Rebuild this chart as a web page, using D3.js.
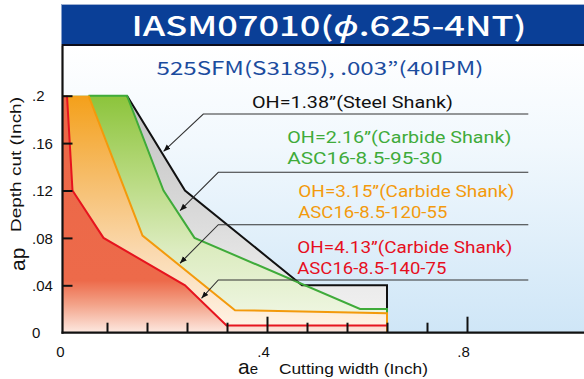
<!DOCTYPE html>
<html>
<head>
<meta charset="utf-8">
<script src="https://cdn.jsdelivr.net/npm/d3@7"></script>
<style>
  html, body { margin: 0; padding: 0; background: #ffffff; }
  svg { display: block; }
</style>
</head>
<body>
<svg id="chart" width="584" height="379"></svg>
<script>
// ---- data (cutting width ae, depth of cut ap, in inches) ----
const steelAe   = [0.12, 0.236, 0.47, 0.64, 0.64];
const steelAp   = [0.2, 0.12, 0.04, 0.04, 0];
const c95Ae     = [0.043, 0.12, 0.193, 0.255, 0.586, 0.64];
const c95Ap     = [0.2, 0.2, 0.12, 0.08, 0.02, 0.02];
const c120Ae    = [0.043, 0.151, 0.336, 0.64];
const c120Ap    = [0.2, 0.082, 0.019, 0.0165];
const c140Ae    = [0, 0.011, 0.073, 0.236, 0.319, 0.64];
const c140Ap    = [0.2, 0.12, 0.08, 0.04, 0.006, 0.006];

const xMinorTicks = [0.08, 0.16, 0.24, 0.32, 0.48, 0.56, 0.64, 0.72];
const xMajorTicks = [0, 0.4, 0.8];
const xTickLabels = ["0", ".4", ".8"];
const yTicks      = [0, 0.04, 0.08, 0.12, 0.16, 0.2];
const yTickLabels = ["0", ".04", ".08", ".12", ".16", ".2"];

const titleText    = "IASM07010(";
const titlePhi     = "ϕ";
const titleRest    = ".625-4NT)";
const subtitleText = "525SFM(S3185), .003”(40IPM)";

const seriesNames = [
  ["OH=1.38”(Steel Shank)"],
  ["OH=2.16”(Carbide Shank)", "ASC16-8.5-95-30"],
  ["OH=3.15”(Carbide Shank)", "ASC16-8.5-120-55"],
  ["OH=4.13”(Carbide Shank)", "ASC16-8.5-140-75"]
];
// points on each curve that the call-out arrows point at
const calloutAe = [0.193, 0.226, 0.226, 0.269];
const calloutAp = [0.153, 0.103, 0.0586, 0.029];

// ---- layout ----
const svg = d3.select("#chart");
const W = 584;
const plotLeft = 62.5, plotTop = 46, axisY = 332.7;
const x = d3.scaleLinear().domain([0, 1.034]).range([67, 584]);
const y = d3.scaleLinear().domain([0, 0.2]).range([axisY, 95.7]);

const defs = svg.append("defs");
function vGrad(id, stops, y1, y2) {
  const g = defs.append("linearGradient").attr("id", id)
    .attr("gradientUnits", "userSpaceOnUse")
    .attr("x1", 0).attr("x2", 0).attr("y1", y1).attr("y2", y2);
  stops.forEach(s => g.append("stop").attr("offset", s[0]).attr("stop-color", s[1]));
}
vGrad("bgGrad",    [[0, "#ffffff"], [0.35, "#f1f8fd"], [1, "#cfe6f7"]], plotTop, axisY);
vGrad("grayGrad",  [[0, "#c2c2c2"], [0.45, "#d7d7d7"], [0.8, "#ebebeb"], [1, "#f4f4f4"]], y(0.2), axisY);
vGrad("greenGrad", [[0, "#8cc43b"], [0.35, "#b8da80"], [0.65, "#dcecc0"], [1, "#f3f8ea"]], y(0.2), axisY);
vGrad("orangeGrad",[[0, "#f4a01a"], [0.35, "#f6bd6a"], [0.65, "#fad8ad"], [1, "#fff5ea"]], y(0.2), axisY);
vGrad("redGrad",   [[0, "#ec6747"], [0.78, "#ed6a4a"], [0.88, "#f3a288"], [1, "#fde9e1"]], y(0.2), axisY);

const marker = defs.append("marker").attr("id", "arrow")
  .attr("viewBox", "0 0 10 10").attr("refX", 10).attr("refY", 5)
  .attr("markerWidth", 7).attr("markerHeight", 7).attr("markerUnits", "userSpaceOnUse")
  .attr("orient", "auto");
marker.append("path").attr("d", "M0,1 L10,5 L0,9 Z").attr("fill", "#111");

// ---- title bar ----
svg.append("rect").attr("x", 61.5).attr("y", 4).attr("width", W - 61.5).attr("height", 40)
  .attr("fill", "#0a3f97");
svg.append("line").attr("x1", 61.5).attr("x2", W).attr("y1", 4.5).attr("y2", 4.5)
  .attr("stroke", "#9fb1d3").attr("stroke-width", 1);
svg.append("line").attr("x1", 61.5).attr("x2", W).attr("y1", 45).attr("y2", 45)
  .attr("stroke", "#0d0d1a").attr("stroke-width", 2);
const title = svg.append("text").attr("x", 329).attr("y", 36)
  .attr("text-anchor", "middle")
  .attr("font-family", "'Noto Sans CJK JP', 'Noto Sans', sans-serif")
  .attr("font-weight", 500).attr("font-size", 27).attr("fill", "#ffffff")
  .attr("textLength", 395).attr("lengthAdjust", "spacingAndGlyphs");
title.append("tspan").text(titleText);
title.append("tspan").attr("font-style", "italic").text(titlePhi);
title.append("tspan").text(titleRest);

// ---- plot panel ----
svg.append("rect").attr("x", plotLeft).attr("y", plotTop)
  .attr("width", W - plotLeft).attr("height", axisY - plotTop)
  .attr("fill", "url(#bgGrad)");

svg.append("text").attr("x", 320).attr("y", 75)
  .attr("text-anchor", "middle")
  .attr("font-family", "'Noto Sans CJK JP', 'Noto Sans', sans-serif")
  .attr("font-size", 18).attr("fill", "#1b4c9e")
  .attr("textLength", 327).attr("lengthAdjust", "spacingAndGlyphs")
  .text(subtitleText);

// area from the left axis at the top of the chart, along a curve, then to the axis
function areaPath(ae, ap) {
  const pts = [[plotLeft, y(0.2)]];
  ae.forEach((v, i) => pts.push([x(v), y(ap[i])]));
  pts.push([x(ae[ae.length - 1]), y(0)]);
  pts.push([plotLeft, y(0)]);
  return d3.line()(pts) + "Z";
}
function linePath(ae, ap) {
  return d3.line()(ae.map((v, i) => [x(v), y(ap[i])]));
}

svg.append("path").attr("d", areaPath(steelAe, steelAp)).attr("fill", "url(#grayGrad)");
svg.append("path").attr("d", areaPath(c95Ae, c95Ap)).attr("fill", "url(#greenGrad)");
svg.append("path").attr("d", areaPath(c120Ae, c120Ap)).attr("fill", "url(#orangeGrad)");
svg.append("path").attr("d", areaPath(c140Ae, c140Ap)).attr("fill", "url(#redGrad)");

svg.append("path").attr("d", linePath(steelAe, steelAp))
  .attr("fill", "none").attr("stroke", "#111").attr("stroke-width", 2);
svg.append("path").attr("d", linePath(c95Ae.concat([c95Ae[c95Ae.length - 1]]), c95Ap.concat([c120Ap[c120Ap.length - 1]])))
  .attr("fill", "none").attr("stroke", "#3fab3a").attr("stroke-width", 2);
svg.append("path").attr("d", linePath(c120Ae.concat([c120Ae[c120Ae.length - 1]]), c120Ap.concat([0])))
  .attr("fill", "none").attr("stroke", "#f39a0c").attr("stroke-width", 2);
svg.append("path").attr("d", linePath(c140Ae, c140Ap))
  .attr("fill", "none").attr("stroke", "#e6141e").attr("stroke-width", 2);

// ---- axes ----
const tickFont = "'Liberation Sans', Arial, sans-serif";
const xMinor = svg.append("g").attr("transform", `translate(0,${axisY})`)
  .call(d3.axisBottom(x).tickValues(xMinorTicks).tickSize(-10).tickFormat(""));
const xMajor = svg.append("g").attr("transform", `translate(0,${axisY})`)
  .call(d3.axisBottom(x).tickValues(xMajorTicks).tickSize(-16).tickPadding(14)
    .tickFormat((d, i) => xTickLabels[i]));
[xMinor, xMajor].forEach(g => {
  g.select(".domain").remove();
  g.selectAll("line").attr("stroke", "#111").attr("stroke-width", 2);
});
xMajor.selectAll(".tick").filter(d => d === 0).select("line").remove();
xMajor.selectAll("text").attr("font-family", tickFont).attr("font-size", 15)
  .attr("fill", "#111").attr("dx", (d) => d === 0 ? -7 : -4);

const yAxis = svg.append("g").attr("transform", `translate(${plotLeft},0)`)
  .call(d3.axisLeft(y).tickValues(yTicks).tickSize(-10).tickFormat((d, i) => yTickLabels[i]));
yAxis.select(".domain").remove();
yAxis.selectAll("line").attr("stroke", "#111").attr("stroke-width", 2);
yAxis.selectAll(".tick").filter(d => d === 0).select("line").remove();
yAxis.selectAll("text").attr("font-family", tickFont).attr("font-size", 15)
  .attr("fill", "#111").attr("text-anchor", "start").attr("x", 32 - plotLeft).attr("dy", "0.35em");

svg.append("line").attr("x1", plotLeft).attr("x2", plotLeft).attr("y1", plotTop).attr("y2", axisY + 1)
  .attr("stroke", "#111").attr("stroke-width", 2.2);
svg.append("line").attr("x1", plotLeft - 1).attr("x2", W).attr("y1", axisY).attr("y2", axisY)
  .attr("stroke", "#111").attr("stroke-width", 2.2);

// axis titles
svg.append("text").attr("transform", "translate(25,271) rotate(-90)")
  .attr("font-family", tickFont).attr("font-size", 21).attr("fill", "#111")
  .text("ap");
svg.append("text").attr("transform", "translate(21,232) rotate(-90)")
  .attr("font-family", tickFont).attr("font-size", 15.5).attr("fill", "#111")
  .attr("textLength", 135).attr("lengthAdjust", "spacingAndGlyphs")
  .text("Depth cut (Inch)");
const xt = svg.append("text").attr("x", 238).attr("y", 374)
  .attr("font-family", tickFont).attr("fill", "#111");
xt.append("tspan").attr("font-size", 21).text("a");
xt.append("tspan").attr("font-size", 15).text("e");
svg.append("text").attr("x", 279).attr("y", 374)
  .attr("font-family", tickFont).attr("font-size", 15.5).attr("fill", "#111")
  .attr("textLength", 149).attr("lengthAdjust", "spacingAndGlyphs")
  .text("Cutting width (Inch)");

// ---- call-outs ----
const elbowX   = [203.3, 218.3, 218.3, 218.3];
const elbowY   = [114, 172.3, 224.7, 280];
const lineEndX = 528.3;
elbowX.forEach((ex, i) => {
  svg.append("path")
    .attr("d", `M${lineEndX},${elbowY[i]} L${ex},${elbowY[i]} L${x(calloutAe[i])},${y(calloutAp[i])}`)
    .attr("fill", "none").attr("stroke", "#333").attr("stroke-width", 1.1)
    .attr("marker-end", "url(#arrow)");
});

const labelColors = ["#111111", "#3fab3a", "#f39a0c", "#e60f1e"];
const labelX      = [252, 287.3, 298.3, 297.3];
const labelY1     = [108, 143, 197, 253];
const lineGap     = 21;
const labelW      = [[201], [224, 155], [216, 149], [215, 149]];
seriesNames.forEach((lines, i) => {
  lines.forEach((t, j) => {
    svg.append("text").attr("x", labelX[i]).attr("y", labelY1[i] + j * lineGap)
      .attr("font-family", "Roboto, 'Noto Sans', sans-serif")
      .attr("font-size", 16.5).attr("fill", labelColors[i])
      .attr("textLength", labelW[i][j]).attr("lengthAdjust", "spacingAndGlyphs")
      .text(t);
  });
});
</script>
</body>
</html>
